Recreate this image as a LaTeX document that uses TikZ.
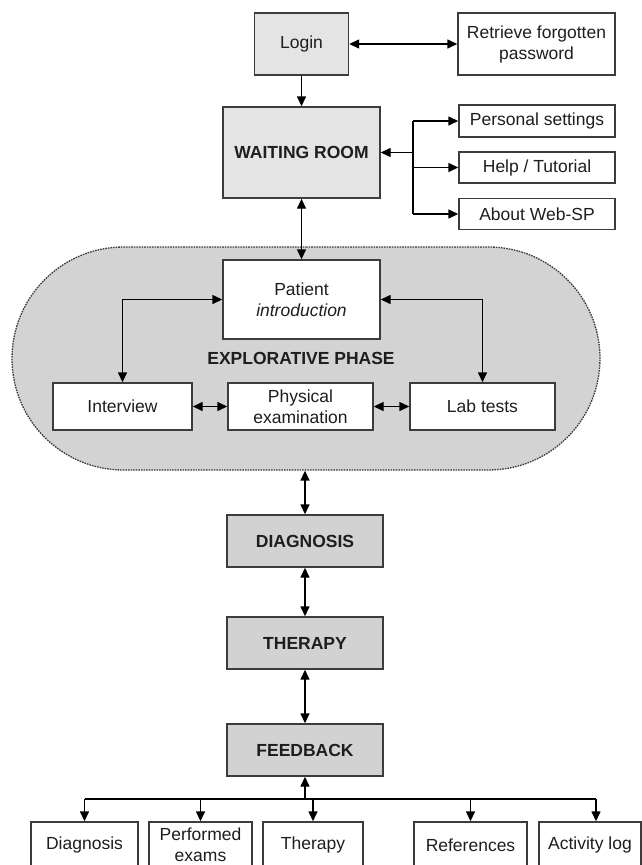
\documentclass[tikz,border=0pt]{standalone}
\usepackage{fontspec}
\setmainfont{Liberation Sans}
\usetikzlibrary{arrows.meta,shapes.misc}
\definecolor{lightfill}{HTML}{E4E4E4}
\definecolor{midfill}{HTML}{D2D2D2}
\definecolor{explfill}{HTML}{D3D3D3}
\definecolor{boxline}{HTML}{3C3C3C}
\definecolor{textcol}{HTML}{1E1E1E}
\begin{document}
\begin{tikzpicture}[x=1pt,y=-1pt,
  box/.style={draw=boxline, line width=1.4pt, fill=white, inner sep=0pt, align=center,
    text=textcol, font=\fontsize{17.5}{21}\selectfont},
  lightbox/.style={box, fill=lightfill},
  darkbox/.style={box, fill=midfill, font=\fontsize{17.5}{21}\selectfont\bfseries},
  conn/.style={line width=1.4pt, draw=black},
  onearrow/.style={-{Triangle[length=10pt,width=9pt]}},
  twoarrow/.style={{Triangle[length=10pt,width=9pt]}-{Triangle[length=10pt,width=9pt]}},
]
\useasboundingbox (0,0) rectangle (642,865);

% explorative phase background
\node[rounded rectangle, draw=boxline, fill=explfill, line width=1.3pt,
  dash pattern=on 1.6pt off 1pt, minimum width=588pt, minimum height=223pt,
  inner sep=0pt] (expl) at (306,358.5) {};

% top part
\node[lightbox, minimum width=94pt, minimum height=62pt] (login) at (301.5,44) {Login};
\node[box, minimum width=157pt, minimum height=62pt] (retrieve) at (536.5,44)
  {Retrieve forgotten\\password};
\node[lightbox, minimum width=157pt, minimum height=91pt,
  font=\fontsize{17.5}{21}\selectfont\bfseries] (waiting) at (301.5,152.5) {WAITING ROOM};
\node[box, minimum width=156pt, minimum height=32pt] (personal) at (537,121) {Personal settings};
\node[box, minimum width=156pt, minimum height=31pt] (help) at (537,167.5) {Help / Tutorial};
\node[box, minimum width=156pt, minimum height=31pt] (about) at (537,214) {About Web-SP};

% explorative phase
\node[box, minimum width=157pt, minimum height=79pt] (patient) at (301.5,299.5)
  {Patient\\\itshape introduction};
\node[font=\fontsize{17.5}{21}\selectfont\bfseries, text=textcol, inner sep=0pt] (phase)
  at (301,358) {EXPLORATIVE PHASE};
\node[box, minimum width=139pt, minimum height=47pt] (interview) at (122.5,406.5) {Interview};
\node[box, minimum width=145pt, minimum height=47pt] (physical) at (300.5,406.5)
  {Physical\\examination};
\node[box, minimum width=145pt, minimum height=47pt] (lab) at (482.5,406.5) {Lab tests};

% main phases
\node[darkbox, minimum width=156pt, minimum height=52pt] (diag) at (305,541) {DIAGNOSIS};
\node[darkbox, minimum width=156pt, minimum height=52pt] (ther) at (305,643) {THERAPY};
\node[darkbox, minimum width=156pt, minimum height=52pt] (feed) at (305,750) {FEEDBACK};

% feedback items
\node[box, minimum width=107pt, minimum height=46pt] (fb1) at (84.5,845) {Diagnosis};
\node[box, minimum width=103pt, minimum height=46pt] (fb2) at (200.5,845)
  {\fontsize{17.5}{20}\selectfont Performed\\exams};
\node[box, minimum width=100pt, minimum height=46pt] (fb3) at (313,845) {Therapy};
\node[box, minimum width=113pt, minimum height=46pt] (fb4) at (470.5,845) {References};
\node[box, minimum width=102pt, minimum height=46pt] (fb5) at (590,845) {Activity log};

% connectors: top
\draw[conn,twoarrow] (login) -- (retrieve);
\draw[conn,onearrow] (login.south) -- (waiting.north);
\coordinate (br) at (413,152.5);
\draw[conn,onearrow] (br) -- (waiting.east);
\draw[conn] (br |- personal) -- (br |- about);
\draw[conn,onearrow] (br |- personal) -- (personal.west);
\draw[conn,onearrow] (br |- help) -- (help.west);
\draw[conn,onearrow] (br |- about) -- (about.west);
\draw[conn,twoarrow] (waiting.south) -- (patient.north);

% explorative connectors
\draw[conn,twoarrow] (interview.north) |- (patient.west);
\draw[conn,twoarrow] (lab.north) |- (patient.east);
\draw[conn,twoarrow] (interview) -- (physical);
\draw[conn,twoarrow] (physical) -- (lab);

% main chain
\draw[conn,twoarrow] (expl.south -| diag.north) -- (diag.north);
\draw[conn,twoarrow] (diag) -- (ther);
\draw[conn,twoarrow] (ther) -- (feed);

% feedback bus
\coordinate (bus) at (305,799);
\coordinate (t5) at ([xshift=6pt]fb5.north);
\draw[conn,onearrow] (bus) -- (feed.south);
\draw[conn] (bus -| fb1.north) -- (bus -| t5);
\draw[conn,onearrow] (bus -| fb1.north) -- (fb1.north);
\draw[conn,onearrow] (bus -| fb2.north) -- (fb2.north);
\draw[conn,onearrow] (bus -| fb3.north) -- (fb3.north);
\draw[conn,onearrow] (bus -| fb4.north) -- (fb4.north);
\draw[conn,onearrow] (bus -| t5) -- (t5);
\end{tikzpicture}
\end{document}
